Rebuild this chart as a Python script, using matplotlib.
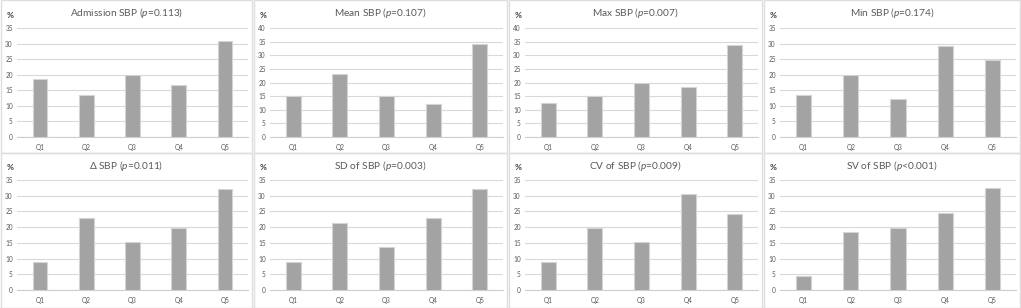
import matplotlib
matplotlib.use("Agg")
import matplotlib.pyplot as plt
from matplotlib.patches import Rectangle

plt.rcParams['font.family'] = ['Lato', 'DejaVu Sans']
plt.rcParams['mathtext.fontset'] = 'custom'
plt.rcParams['mathtext.it'] = 'Lato:italic'
plt.rcParams['mathtext.rm'] = 'Lato'

categories = ["Q1", "Q2", "Q3", "Q4", "Q5"]

titles = [
    "Admission SBP", "Mean SBP", "Max SBP", "Min SBP",
    "\u0394 SBP", "SD of SBP", "CV of SBP", "SV of SBP",
]
p_texts = ["=0.113", "=0.107", "=0.007", "=0.174",
           "=0.011", "=0.003", "=0.009", "<0.001"]

admission_sbp = [18.5, 13.6, 19.9, 16.7, 30.9]
mean_sbp = [15.2, 23.0, 15.2, 12.1, 34.0]
max_sbp = [12.3, 15.2, 19.9, 18.3, 33.8]
min_sbp = [13.6, 20.0, 12.2, 29.2, 24.6]
delta_sbp = [9.0, 22.9, 15.2, 19.7, 32.2]
sd_sbp = [9.0, 21.3, 13.6, 22.9, 32.2]
cv_sbp = [9.0, 19.7, 15.2, 30.6, 24.3]
sv_sbp = [4.4, 18.3, 19.8, 24.4, 32.3]

series = [admission_sbp, mean_sbp, max_sbp, min_sbp,
          delta_sbp, sd_sbp, cv_sbp, sv_sbp]
y_max = [35, 40, 40, 35, 35, 35, 35, 35]

W, H = 1021, 308
fig = plt.figure(figsize=(W / 100, H / 100), dpi=100)
fig.patch.set_facecolor('white')

col_edges = [0, 253, 508, 763, 1021]
row_edges = [0, 153, 308]
row_plot = [(28, 137), (180, 290)]

grid_c = '#d9d9d9'
text_c = '#595959'

for i in range(8):
    r, c = divmod(i, 4)
    px0, px1 = col_edges[c], col_edges[c + 1]
    py0, py1 = row_edges[r], row_edges[r + 1]
    fig.patches.append(Rectangle((px0 / W + 0.0005, 1 - py1 / H + 0.001),
                                 (px1 - px0) / W - 0.001, (py1 - py0) / H - 0.002,
                                 transform=fig.transFigure, fill=False,
                                 edgecolor='#dedede', linewidth=1.0))
    left = px0 + 17
    right = px1 - 5
    top, bottom = row_plot[r]
    ax = fig.add_axes([left / W, 1 - bottom / H, (right - left) / W, (bottom - top) / H])
    ax.set_facecolor('none')
    x = range(len(categories))
    ax.bar(x, series[i], width=0.32, color='#a3a3a3', edgecolor='#d4d4d4',
           linewidth=0.8, zorder=3)
    ax.set_xlim(-0.5, 4.5)
    ax.set_ylim(0, y_max[i])
    ax.set_yticks(range(0, y_max[i] + 1, 5))
    ax.set_xticks(list(x))
    ax.set_xticklabels(categories)
    ax.grid(axis='y', color=grid_c, linewidth=0.8, zorder=0)
    for s in ['top', 'right', 'left']:
        ax.spines[s].set_visible(False)
    ax.spines['bottom'].set_color('#cfcfcf')
    ax.spines['bottom'].set_linewidth(0.8)
    ax.tick_params(axis='both', length=0, labelsize=4.7, colors=text_c, pad=3)
    ax.tick_params(axis='x', pad=5)
    cx = (px0 + px1) / 2 / W
    ty = 1 - (py0 + 13) / H
    fig.text(cx, ty, titles[i] + r" ($\mathit{p}$" + p_texts[i] + ")",
             ha='center', va='center', fontsize=7.3, color=text_c)
    fig.text((px0 + 10) / W, 1 - (py0 + 15) / H, "%", ha='center', va='center',
             fontsize=6, fontweight='bold', color='#404040')

fig.savefig('out.png', dpi=100, facecolor='white')
